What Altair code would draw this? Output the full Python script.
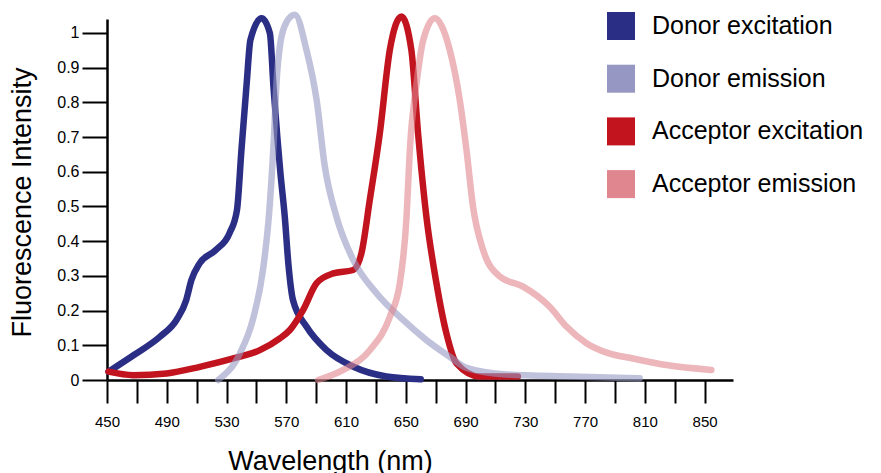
import altair as alt
import pandas as pd

series_names = ["Donor excitation", "Donor emission", "Acceptor excitation", "Acceptor emission"]
series_kind = ["excitation", "emission", "excitation", "emission"]
series_colors = ["#2B2E85", "#9697C2", "#C1141F", "#E0868E"]

# Donor excitation
de_nm = [451, 468, 485.5, 496.5, 503, 506.5, 512, 523, 532, 537, 540, 543.5, 546,
         553.5, 559, 561.5, 564, 566, 569, 571.5, 574.5, 583.5, 597, 615, 637, 660]
de_y = [0.024, 0.072, 0.125, 0.173, 0.23, 0.288, 0.336, 0.375, 0.423, 0.49, 0.663, 0.855, 0.98,
        1.042, 0.999, 0.84, 0.70, 0.60, 0.47, 0.33, 0.23, 0.154, 0.086, 0.038, 0.01, 0.002]

# Donor emission
dm_nm = [524.5, 539, 548, 554.5, 558.5, 561.5, 563.5, 566, 570, 575.8, 583.5, 590.3, 595.8,
         603.6, 614.8, 630.4, 648.2, 663.8, 679.4, 690.6, 717.4, 760, 806.5]
dm_y = [0.0, 0.077, 0.18, 0.32, 0.48, 0.68, 0.86, 0.97, 1.03, 1.052, 0.951, 0.807, 0.615,
        0.47, 0.346, 0.25, 0.173, 0.115, 0.067, 0.035, 0.016, 0.01, 0.005]

# Acceptor excitation
ae_nm = [451, 467.6, 489.9, 512.2, 534.5, 552.3, 565.7, 572.4, 581.3, 590.3, 601.4, 614.8,
         620.3, 625.9, 632.6, 639.3, 647.1, 653.7, 658.2, 663.8, 670.5, 677.2, 683.9, 699.5, 725]
ae_y = [0.024, 0.014, 0.019, 0.038, 0.062, 0.086, 0.12, 0.144, 0.202, 0.279, 0.307, 0.317,
        0.365, 0.519, 0.711, 0.951, 1.047, 0.951, 0.711, 0.47, 0.279, 0.134, 0.048, 0.01, 0.01]

# Acceptor emission
am_nm = [591.3, 608.1, 625.9, 639.3, 646, 650.5, 652.7, 657.2, 661.7, 669.4, 674, 679.4,
         686.1, 690.6, 695, 701.7, 712.9, 728.5, 746.3, 757.5, 770.9, 785, 802, 824.4, 854.5]
am_y = [0.0, 0.029, 0.086, 0.182, 0.279, 0.47, 0.663, 0.855, 0.98, 1.042, 1.02, 0.951,
        0.807, 0.663, 0.499, 0.375, 0.298, 0.269, 0.211, 0.154, 0.106, 0.078, 0.062, 0.043, 0.029]

x_ticks = list(range(450, 851, 20))
x_labels = [450, 490, 530, 570, 610, 650, 690, 730, 770, 810, 850]
y_ticks = [0, 0.1, 0.2, 0.3, 0.4, 0.5, 0.6, 0.7, 0.8, 0.9, 1.0]

series_data = [(de_nm, de_y), (dm_nm, dm_y), (ae_nm, ae_y), (am_nm, am_y)]
rows = []
for name, kind, (xs, ys) in zip(series_names, series_kind, series_data):
    for i, (a, b) in enumerate(zip(xs, ys)):
        rows.append({"series": name, "kind": kind, "nm": a, "value": b, "idx": i})
df = pd.DataFrame(rows)

FONT = "Liberation Sans"
label_expr = "indexof([" + ",".join(str(v) for v in x_labels) + "], datum.value) >= 0 ? datum.label : ''"

x_enc = alt.X(
    "nm:Q",
    scale=alt.Scale(domain=[450, 869], nice=False, zero=False),
    axis=alt.Axis(
        values=x_ticks, labelExpr=label_expr, title="Wavelength (nm)",
        tickSize=23, labelPadding=11, labelFontSize=15, labelFlush=False,
        titleFontSize=27, titleFontWeight="normal", titleX=223, titleY=89,
        titleAlign="center", titleBaseline="alphabetic",
    ),
)
y_enc = alt.Y(
    "value:Q",
    scale=alt.Scale(domain=[0, 1.04], nice=False),
    axis=alt.Axis(
        values=y_ticks, format=".1~f", title="Fluorescence Intensity",
        tickSize=25, labelPadding=3, labelFontSize=16, labelFlush=False,
        titleFontSize=27, titleFontWeight="normal", titleX=-85, titleY=183,
        titleAlign="center", titleBaseline="middle", titleAngle=270,
    ),
)
color_lines = alt.Color("series:N", scale=alt.Scale(domain=series_names, range=series_colors), legend=None)

base = alt.Chart(df)
exc = base.transform_filter(alt.datum.kind == "excitation").mark_line(
    strokeWidth=6.5, strokeCap="round", strokeJoin="round", interpolate="monotone"
).encode(x=x_enc, y=y_enc, color=color_lines, detail="series:N", order="idx:Q")
emi = base.transform_filter(alt.datum.kind == "emission").mark_line(
    strokeWidth=6.5, strokeCap="round", strokeJoin="round", interpolate="monotone", strokeOpacity=0.6
).encode(x=x_enc, y=y_enc, color=color_lines, detail="series:N", order="idx:Q")

lines = alt.layer(exc, emi)

legend_layer = base.mark_point(filled=True, shape="square", opacity=0).encode(
    x=x_enc, y=y_enc,
    color=alt.Color(
        "series:N",
        scale=alt.Scale(domain=series_names, range=series_colors),
        legend=alt.Legend(
            orient="none", legendX=500, legendY=-7, title=None,
            symbolType="square", symbolSize=784, symbolStrokeWidth=0, symbolOpacity=1,
            labelFontSize=25, labelFont=FONT, labelOffset=17, rowPadding=24.7,
            labelLimit=0, padding=0, labelColor="black",
        ),
    ),
)

chart = alt.layer(lines, legend_layer).resolve_scale(color="independent").properties(
    width=626, height=361,
    padding={"left": 99, "top": 11, "right": 140, "bottom": 93},
    autosize=alt.AutoSizeParams(type="none"),
).configure_view(stroke=None).configure_axis(
    grid=False, domainColor="black", domainWidth=2.5, tickColor="black", tickWidth=2,
    labelColor="black", titleColor="black", labelFont=FONT, titleFont=FONT,
)

chart.save("out.html", embed_options={"renderer": "svg", "actions": False})
